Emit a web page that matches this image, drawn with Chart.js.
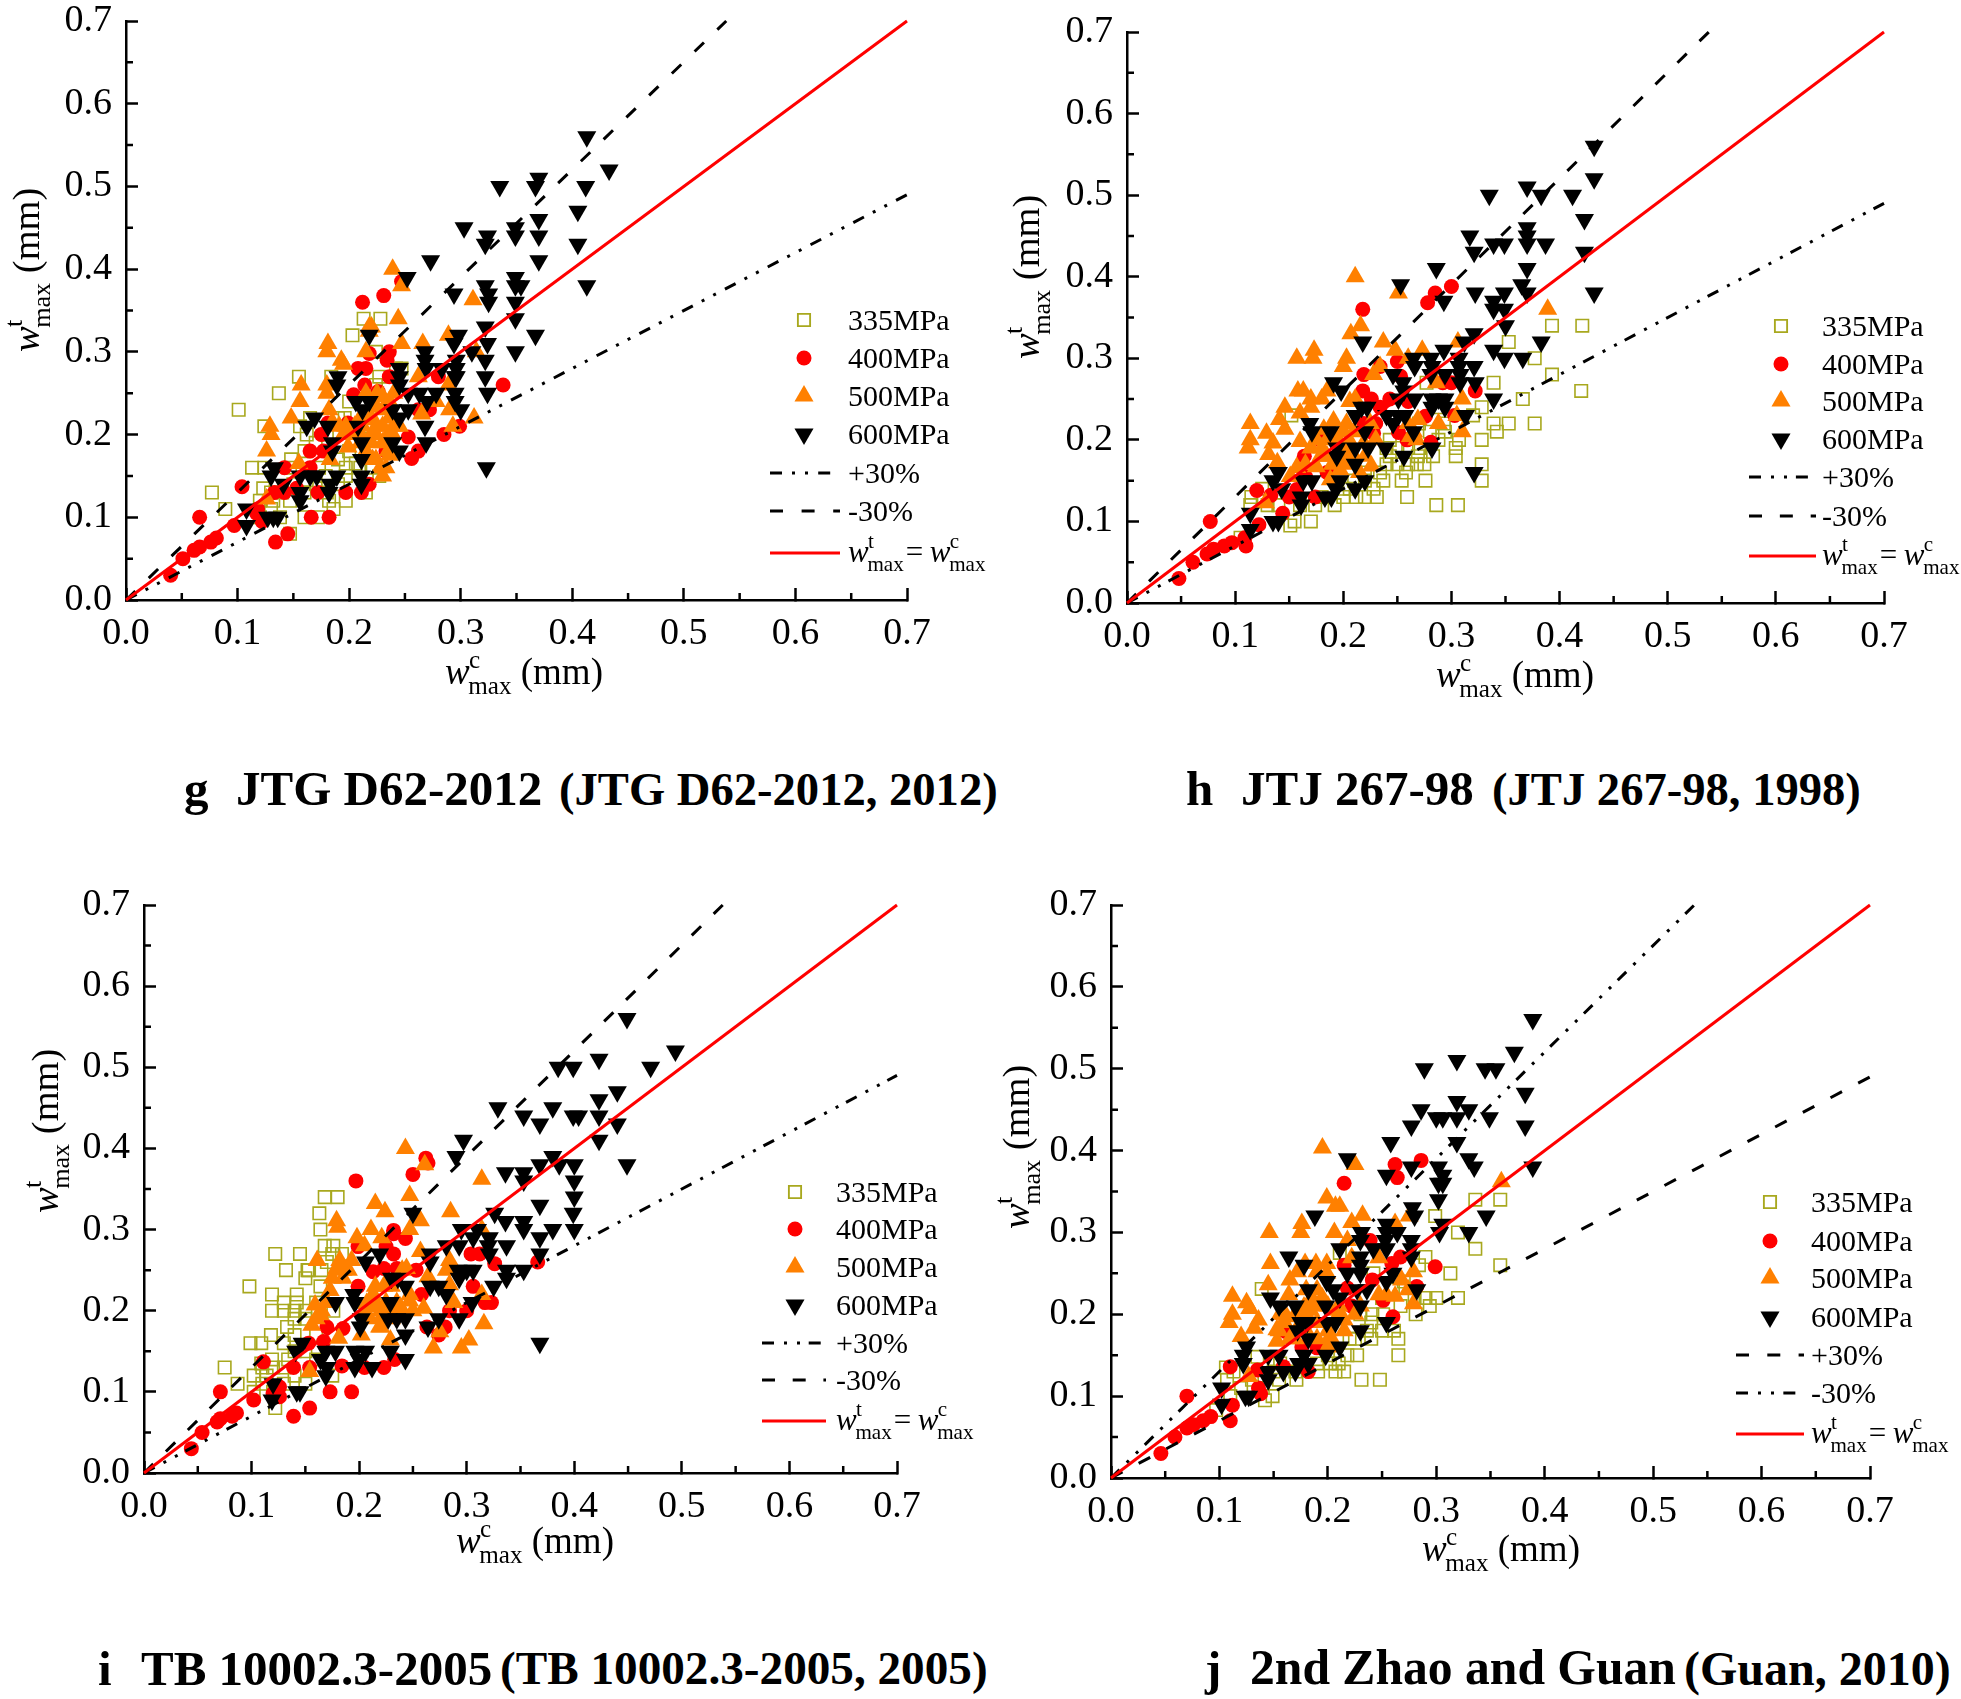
<!DOCTYPE html>
<html>
<head>
<meta charset="utf-8">
<title>Crack width comparison</title>
<script src="https://cdn.jsdelivr.net/npm/chart.js@4/dist/chart.umd.js"></script>
<style>
  html, body { margin: 0; padding: 0; background: #fff; }
  body { position: relative; width: 1961px; height: 1699px; overflow: hidden; font-family: "Liberation Serif", serif; }
  canvas { position: absolute; }
  .cap { position: absolute; font-weight: bold; line-height: 1; white-space: pre; color: #000; }
</style>
</head>
<body>
<script>
// Axis ticks
const tickValues = [0, 0.1, 0.2, 0.3, 0.4, 0.5, 0.6, 0.7];
const minorValues = [0.05, 0.15, 0.25, 0.35, 0.45, 0.55, 0.65];

// Reference lines (calculated vs tested)
const lineLow = [[0, 0], [0.7, 0.49]];
const lineHigh = [[0, 0], [0.538, 0.7]];
const lineEqual = [[0, 0], [0.7, 0.7]];

// Panel g: JTG D62-2012
const g335 = [[.101,.23],[.137,.25],[.155,.27],[.077,.13],[.089,.11],[.124,.21],[.113,.16],[.124,.16],[.213,.34],[.228,.34],[.203,.32],[.242,.28],[.227,.27],[.184,.27],[.224,.26],[.2,.24],[.196,.22],[.165,.22],[.162,.2],[.156,.21],[.148,.17],[.16,.18],[.147,.16],[.123,.135],[.12,.12],[.132,.12],[.147,.12],[.162,.145],[.173,.16],[.197,.16],[.206,.165],[.197,.12],[.182,.12],[.186,.11],[.16,.1],[.172,.1],[.138,.1],[.147,.08],[.215,.13],[.197,.15],[.179,.15],[.19,.22],[.224,.3],[.247,.28],[.227,.15],[.215,.21],[.17,.19],[.18,.2],[.19,.17],[.2,.18],[.21,.16],[.22,.16],[.18,.13],[.16,.13],[.14,.13],[.15,.14],[.13,.13],[.17,.14],[.19,.14],[.12,.1],[.13,.11]];
const g400 = [[.04,.03],[.051,.05],[.066,.1],[.061,.06],[.066,.064],[.076,.07],[.081,.075],[.097,.09],[.104,.137],[.134,.07],[.145,.08],[.122,.095],[.117,.105],[.118,.11],[.133,.13],[.142,.13],[.153,.135],[.165,.18],[.166,.1],[.182,.1],[.172,.13],[.197,.13],[.211,.13],[.218,.14],[.142,.16],[.165,.16],[.175,.2],[.181,.214],[.177,.18],[.212,.36],[.231,.368],[.247,.385],[.218,.298],[.236,.3],[.234,.29],[.236,.27],[.208,.28],[.215,.28],[.214,.26],[.204,.248],[.226,.252],[.338,.26],[.28,.27],[.262,.23],[.272,.23],[.285,.2],[.299,.21],[.253,.197],[.256,.171],[.262,.18],[.233,.18],[.199,.214]];
const g500 = [[.239,.4],[.247,.38],[.311,.363],[.244,.34],[.218,.33],[.22,.33],[.218,.325],[.181,.31],[.18,.3],[.215,.3],[.247,.31],[.266,.31],[.289,.32],[.193,.29],[.195,.285],[.314,.3],[.157,.26],[.18,.26],[.18,.25],[.156,.24],[.148,.22],[.129,.21],[.13,.2],[.126,.18],[.262,.27],[.289,.26],[.29,.23],[.265,.225],[.312,.22],[.293,.21],[.182,.23],[.155,.165],[.126,.122],[.23,.15],[.233,.16],[.236,.175],[.224,.17],[.203,.2],[.191,.21],[.199,.185],[.215,.18],[.221,.17],[.224,.2],[.23,.21],[.236,.22],[.239,.2],[.245,.21],[.23,.246],[.224,.234],[.236,.24],[.218,.218],[.212,.21],[.183,.17],[.185,.215],[.197,.21],[.278,.24],[.23,.19],[.205,.21],[.21,.2],[.22,.19],[.21,.22],[.22,.22],[.225,.21],[.235,.2],[.24,.21],[.23,.23],[.215,.25],[.225,.25],[.24,.25],[.21,.19],[.2,.2],[.195,.2],[.22,.2],[.235,.18],[.228,.16]];
const g600 = [[.413,.56],[.433,.52],[.37,.51],[.367,.5],[.335,.5],[.412,.5],[.405,.47],[.37,.46],[.303,.45],[.349,.45],[.349,.44],[.324,.44],[.37,.44],[.322,.43],[.405,.43],[.273,.41],[.37,.41],[.252,.39],[.349,.39],[.349,.38],[.354,.38],[.322,.38],[.413,.38],[.294,.37],[.325,.37],[.325,.36],[.349,.36],[.349,.34],[.322,.33],[.218,.32],[.367,.32],[.298,.32],[.294,.31],[.324,.31],[.268,.3],[.31,.3],[.349,.3],[.268,.29],[.296,.29],[.322,.29],[.245,.28],[.269,.28],[.296,.28],[.19,.27],[.296,.27],[.322,.27],[.189,.26],[.245,.27],[.245,.26],[.169,.22],[.162,.21],[.181,.21],[.206,.24],[.218,.24],[.212,.23],[.239,.23],[.253,.23],[.245,.22],[.263,.25],[.278,.25],[.27,.24],[.253,.25],[.268,.21],[.269,.19],[.208,.21],[.185,.19],[.185,.18],[.211,.19],[.211,.17],[.239,.19],[.245,.18],[.211,.15],[.211,.14],[.189,.15],[.183,.14],[.182,.13],[.165,.15],[.171,.15],[.156,.15],[.156,.13],[.156,.12],[.133,.16],[.13,.15],[.141,.14],[.108,.11],[.108,.09],[.132,.1],[.127,.1],[.136,.1],[.323,.16],[.3,.23],[.295,.24],[.295,.25],[.324,.25],[.283,.28],[.295,.27]];

// Panel h: JTJ 267-98
const h335 = [[.393,.34],[.421,.34],[.353,.32],[.377,.3],[.393,.28],[.42,.26],[.339,.27],[.366,.25],[.328,.24],[.339,.22],[.353,.22],[.377,.22],[.342,.21],[.328,.2],[.307,.2],[.304,.19],[.304,.18],[.328,.17],[.328,.15],[.286,.12],[.306,.12],[.259,.13],[.276,.15],[.258,.16],[.254,.15],[.275,.17],[.283,.18],[.269,.18],[.243,.18],[.231,.13],[.237,.15],[.234,.16],[.212,.13],[.192,.12],[.174,.12],[.17,.1],[.155,.1],[.151,.095],[.115,.13],[.125,.14],[.105,.08],[.228,.14],[.206,.14],[.2,.14],[.243,.2],[.288,.2],[.277,.27],[.293,.22],[.32,.23],[.152,.23],[.25,.19],[.268,.17],[.294,.21],[.114,.12],[.22,.16],[.24,.17],[.25,.17],[.26,.17],[.21,.15],[.22,.15],[.2,.13],[.22,.13],[.18,.13],[.16,.12],[.14,.12],[.13,.12],[.24,.19],[.26,.19],[.27,.19],[.28,.21],[.27,.22],[.29,.24]];
const h400 = [[.048,.03],[.061,.05],[.077,.1],[.074,.06],[.08,.066],[.09,.07],[.097,.074],[.11,.07],[.109,.08],[.122,.096],[.144,.11],[.12,.138],[.133,.132],[.15,.13],[.174,.13],[.164,.18],[.218,.36],[.278,.368],[.285,.38],[.3,.388],[.25,.296],[.219,.28],[.234,.29],[.253,.278],[.218,.26],[.226,.25],[.243,.25],[.234,.24],[.26,.247],[.3,.27],[.292,.27],[.322,.26],[.303,.23],[.276,.229],[.251,.209],[.259,.2],[.281,.197],[.23,.22],[.219,.22],[.228,.208],[.179,.2],[.185,.16],[.165,.155],[.195,.168],[.157,.139]];
const h500 = [[.211,.4],[.251,.38],[.389,.36],[.216,.34],[.207,.33],[.237,.32],[.248,.31],[.273,.31],[.306,.32],[.26,.3],[.157,.3],[.173,.31],[.172,.3],[.203,.3],[.2,.29],[.234,.29],[.228,.28],[.185,.26],[.158,.26],[.163,.26],[.17,.25],[.18,.25],[.17,.24],[.146,.24],[.141,.225],[.16,.233],[.114,.22],[.114,.2],[.112,.19],[.129,.208],[.146,.213],[.135,.196],[.131,.182],[.139,.172],[.157,.166],[.151,.155],[.128,.123],[.31,.25],[.286,.27],[.288,.22],[.269,.225],[.305,.23],[.31,.21],[.16,.198],[.182,.213],[.191,.223],[.203,.22],[.197,.196],[.179,.18],[.175,.167],[.197,.163],[.188,.151],[.226,.168],[.219,.196],[.211,.25],[.206,.247],[.262,.204],[.268,.2],[.203,.18],[.175,.2],[.185,.2],[.19,.21],[.2,.21],[.205,.2],[.21,.21],[.195,.18],[.185,.18],[.19,.17],[.2,.17],[.21,.18],[.215,.16],[.18,.19],[.195,.2],[.17,.19],[.205,.19],[.165,.17],[.22,.18],[.23,.2],[.225,.22],[.26,.22],[.265,.21]];
const h600 = [[.432,.56],[.432,.52],[.37,.51],[.335,.5],[.383,.5],[.412,.5],[.37,.46],[.317,.45],[.37,.45],[.423,.47],[.321,.43],[.423,.43],[.339,.44],[.349,.44],[.37,.44],[.387,.44],[.37,.41],[.286,.41],[.253,.39],[.365,.39],[.293,.37],[.322,.38],[.349,.38],[.37,.38],[.432,.38],[.339,.37],[.349,.36],[.339,.36],[.35,.34],[.218,.32],[.321,.33],[.312,.32],[.383,.32],[.339,.31],[.293,.31],[.349,.3],[.366,.3],[.307,.3],[.265,.3],[.281,.3],[.266,.29],[.282,.29],[.321,.29],[.307,.29],[.294,.28],[.308,.28],[.281,.28],[.246,.28],[.255,.27],[.322,.27],[.308,.27],[.191,.27],[.198,.26],[.256,.26],[.266,.25],[.282,.25],[.294,.25],[.288,.25],[.251,.25],[.222,.24],[.217,.24],[.339,.25],[.282,.24],[.294,.24],[.313,.23],[.24,.23],[.211,.23],[.257,.23],[.251,.23],[.169,.22],[.246,.22],[.171,.21],[.188,.21],[.22,.21],[.265,.21],[.194,.19],[.211,.19],[.223,.19],[.239,.19],[.282,.19],[.194,.18],[.256,.18],[.211,.17],[.14,.16],[.135,.15],[.163,.15],[.171,.15],[.197,.15],[.22,.15],[.143,.14],[.193,.14],[.211,.14],[.161,.13],[.183,.13],[.189,.13],[.161,.12],[.114,.11],[.135,.1],[.14,.1],[.114,.09],[.321,.16]];

// Panel i: TB 10002.3-2005
const i335 = [[.168,.34],[.18,.34],[.163,.32],[.164,.3],[.176,.28],[.168,.28],[.122,.27],[.145,.27],[.132,.25],[.152,.25],[.098,.23],[.119,.22],[.142,.22],[.13,.21],[.142,.21],[.119,.2],[.13,.2],[.14,.19],[.133,.18],[.118,.17],[.099,.16],[.109,.16],[.13,.16],[.14,.17],[.119,.14],[.109,.135],[.075,.13],[.102,.12],[.114,.12],[.087,.11],[.102,.1],[.122,.08],[.11,.11],[.134,.14],[.15,.11],[.15,.24],[.153,.25],[.164,.23],[.175,.27],[.184,.27],[.176,.2],[.14,.2],[.175,.12],[.15,.2],[.16,.21],[.15,.19],[.16,.17],[.15,.15],[.13,.13],[.14,.12],[.12,.1],[.13,.11],[.14,.15],[.16,.14],[.165,.25],[.17,.26],[.12,.13],[.11,.13]];
const i400 = [[.044,.03],[.054,.05],[.071,.1],[.068,.063],[.071,.067],[.082,.07],[.086,.074],[.102,.09],[.139,.07],[.154,.08],[.173,.1],[.193,.1],[.12,.098],[.126,.094],[.126,.106],[.111,.137],[.139,.13],[.154,.13],[.184,.132],[.223,.13],[.233,.14],[.205,.13],[.197,.36],[.25,.368],[.262,.388],[.264,.382],[.232,.299],[.232,.295],[.243,.289],[.225,.279],[.199,.279],[.232,.27],[.213,.248],[.223,.252],[.235,.252],[.253,.25],[.199,.23],[.306,.23],[.304,.27],[.312,.27],[.326,.258],[.366,.26],[.317,.21],[.323,.21],[.3,.2],[.284,.2],[.258,.22],[.263,.18],[.28,.18],[.274,.17],[.17,.18],[.185,.178],[.153,.16],[.167,.162]];
const i500 = [[.243,.4],[.261,.38],[.314,.362],[.247,.342],[.215,.332],[.224,.322],[.285,.322],[.179,.311],[.18,.303],[.257,.311],[.247,.3],[.211,.3],[.198,.29],[.221,.29],[.205,.28],[.314,.3],[.257,.273],[.284,.262],[.161,.262],[.182,.262],[.193,.262],[.179,.252],[.281,.25],[.244,.252],[.264,.242],[.173,.225],[.284,.232],[.247,.22],[.314,.22],[.213,.22],[.223,.23],[.159,.207],[.213,.205],[.26,.203],[.238,.205],[.288,.21],[.164,.195],[.221,.193],[.156,.182],[.219,.18],[.202,.17],[.275,.174],[.316,.184],[.229,.164],[.302,.164],[.181,.166],[.269,.154],[.295,.154],[.154,.125],[.247,.212],[.207,.209],[.229,.2],[.215,.21],[.22,.2],[.225,.21],[.23,.19],[.21,.19],[.235,.21],[.24,.2],[.25,.2],[.205,.2],[.22,.18],[.215,.23],[.23,.23],[.24,.25],[.19,.25],[.185,.25],[.185,.24],[.175,.24],[.17,.21],[.165,.2],[.16,.19]];
const i600 = [[.449,.56],[.494,.52],[.423,.51],[.385,.5],[.399,.5],[.471,.5],[.44,.47],[.423,.46],[.329,.45],[.38,.45],[.353,.44],[.399,.44],[.404,.44],[.423,.44],[.368,.43],[.44,.43],[.297,.41],[.423,.41],[.29,.39],[.38,.39],[.368,.38],[.386,.38],[.4,.38],[.449,.38],[.336,.37],[.353,.37],[.353,.36],[.4,.36],[.4,.34],[.368,.33],[.25,.32],[.399,.32],[.326,.32],[.336,.31],[.353,.31],[.295,.3],[.31,.3],[.353,.3],[.38,.3],[.4,.3],[.368,.29],[.306,.29],[.321,.29],[.368,.16],[.368,.27],[.293,.28],[.337,.28],[.32,.28],[.281,.28],[.266,.27],[.266,.26],[.321,.27],[.292,.25],[.3,.25],[.306,.25],[.353,.25],[.337,.25],[.293,.24],[.337,.24],[.219,.27],[.206,.26],[.23,.24],[.236,.24],[.266,.23],[.274,.23],[.243,.23],[.281,.22],[.325,.23],[.195,.22],[.196,.21],[.178,.21],[.229,.21],[.305,.21],[.202,.19],[.227,.19],[.235,.19],[.243,.19],[.274,.19],[.293,.19],[.201,.18],[.264,.18],[.243,.17],[.147,.16],[.141,.15],[.169,.15],[.178,.15],[.196,.15],[.206,.15],[.229,.15],[.164,.14],[.2,.14],[.17,.13],[.196,.13],[.212,.13],[.243,.14],[.169,.12],[.12,.11],[.119,.09],[.142,.1],[.145,.1]];

// Panel j: 2nd Zhao and Guan
const j335 = [[.336,.34],[.359,.34],[.299,.32],[.32,.3],[.336,.28],[.359,.26],[.313,.25],[.29,.27],[.284,.26],[.29,.22],[.3,.22],[.32,.22],[.294,.21],[.281,.2],[.267,.21],[.241,.2],[.251,.2],[.265,.17],[.265,.15],[.261,.18],[.248,.12],[.231,.12],[.215,.13],[.207,.13],[.191,.13],[.227,.15],[.218,.15],[.236,.18],[.225,.17],[.171,.12],[.155,.12],[.149,.1],[.142,.095],[.113,.13],[.107,.12],[.106,.135],[.097,.083],[.135,.148],[.139,.231],[.211,.275],[.242,.25],[.202,.14],[.156,.14],[.22,.17],[.23,.2],[.25,.22],[.26,.23],[.27,.24],[.24,.19],[.2,.15],[.19,.14],[.21,.14],[.17,.13],[.15,.13],[.13,.12],[.14,.11],[.12,.11],[.11,.1],[.28,.22],[.25,.18],[.24,.17]];
const j400 = [[.046,.03],[.059,.05],[.07,.1],[.07,.061],[.076,.065],[.085,.07],[.092,.075],[.11,.07],[.112,.089],[.136,.11],[.138,.103],[.11,.136],[.135,.132],[.159,.136],[.182,.13],[.161,.179],[.215,.36],[.262,.383],[.264,.367],[.286,.388],[.239,.29],[.215,.26],[.267,.27],[.259,.262],[.299,.258],[.218,.232],[.241,.242],[.26,.197],[.19,.159],[.176,.16],[.222,.21],[.282,.234],[.251,.217]];
const j500 = [[.195,.403],[.225,.383],[.36,.362],[.199,.342],[.211,.332],[.207,.332],[.232,.321],[.222,.312],[.176,.311],[.175,.3],[.146,.3],[.206,.3],[.262,.311],[.275,.32],[.218,.29],[.147,.262],[.165,.242],[.145,.236],[.189,.262],[.199,.262],[.179,.262],[.112,.222],[.125,.214],[.112,.2],[.109,.19],[.128,.207],[.136,.193],[.132,.183],[.12,.173],[.164,.224],[.156,.2],[.153,.181],[.153,.167],[.162,.197],[.178,.209],[.184,.205],[.19,.23],[.172,.252],[.19,.252],[.199,.25],[.208,.205],[.215,.193],[.202,.173],[.202,.165],[.127,.124],[.247,.269],[.279,.252],[.268,.242],[.247,.224],[.254,.224],[.262,.222],[.279,.213],[.274,.23],[.222,.269],[.16,.2],[.17,.2],[.175,.19],[.18,.2],[.19,.21],[.2,.21],[.19,.19],[.18,.18],[.19,.17],[.2,.18],[.185,.22],[.195,.22],[.21,.21],[.17,.17],[.165,.17],[.21,.2],[.18,.23],[.16,.19],[.155,.18],[.2,.16],[.215,.18],[.225,.2],[.23,.21]];
const j600 = [[.389,.56],[.372,.52],[.319,.51],[.289,.5],[.345,.5],[.355,.5],[.319,.46],[.382,.47],[.286,.45],[.33,.45],[.277,.43],[.382,.43],[.3,.44],[.306,.44],[.319,.44],[.349,.44],[.258,.41],[.319,.41],[.218,.39],[.33,.39],[.277,.38],[.302,.38],[.335,.38],[.389,.38],[.254,.37],[.306,.37],[.302,.36],[.306,.36],[.302,.34],[.278,.33],[.188,.32],[.28,.32],[.346,.32],[.306,.31],[.254,.31],[.303,.3],[.33,.3],[.231,.3],[.254,.3],[.264,.3],[.23,.29],[.253,.29],[.277,.29],[.277,.28],[.254,.28],[.242,.28],[.211,.28],[.164,.27],[.23,.27],[.277,.27],[.178,.26],[.23,.26],[.218,.25],[.23,.25],[.26,.25],[.254,.24],[.199,.24],[.182,.23],[.205,.23],[.227,.23],[.236,.23],[.282,.23],[.147,.22],[.211,.22],[.155,.21],[.17,.21],[.198,.21],[.23,.21],[.175,.19],[.181,.19],[.199,.19],[.207,.19],[.254,.19],[.172,.18],[.23,.18],[.182,.17],[.211,.16],[.125,.16],[.122,.15],[.145,.15],[.155,.15],[.178,.15],[.198,.15],[.122,.14],[.173,.14],[.182,.14],[.145,.13],[.159,.13],[.17,.13],[.145,.12],[.102,.11],[.124,.1],[.127,.1],[.102,.09]];

// Text
const seriesNames = ['335MPa', '400MPa', '500MPa', '600MPa'];

// Marker and line looks
const OLIVE = '#a8a81e', RED = '#ff0000', ORANGE = '#ff8000', BLACK = '#000000';
const FONT = '"Liberation Serif", serif';
const markers = [
    { pointStyle: 'rect', pointRadius: 8.8, pointBackgroundColor: 'rgba(0,0,0,0)', pointBorderColor: OLIVE, pointBorderWidth: 1.6, pointRotation: 0 },
    { pointStyle: 'circle', pointRadius: 7.5, pointBackgroundColor: RED, pointBorderColor: RED, pointBorderWidth: 0, pointRotation: 0 },
    { pointStyle: 'triangle', pointRadius: 11, pointBackgroundColor: ORANGE, pointBorderColor: ORANGE, pointBorderWidth: 0, pointRotation: 0 },
    { pointStyle: 'triangle', pointRadius: 11, pointBackgroundColor: BLACK, pointBorderColor: BLACK, pointBorderWidth: 0, pointRotation: 180 }
];

// dash / dashDot are tuned per panel so each line ends on a dash like the original
const panels = [
    { series: [g335, g400, g500, g600], box: [0, 0, 1000, 740], area: [126, 907, 21, 600], swap: false,
      dash: [13, 18.6], dashDot: [12, 10, 3, 10, 3, 10.2],
      xTitle: [445, 684], yTitle: [39, 352], legend: { sym: 804, line: [770, 840], text: 848, ys: [320, 358, 396, 434, 473, 511, 553] } },
    { series: [h335, h400, h500, h600], box: [980, 0, 981, 740], area: [1127, 1884, 32, 603], swap: false,
      dash: [13, 17.85], dashDot: [12, 10, 3, 10, 3, 8.9],
      xTitle: [1436, 687], yTitle: [1039, 359], legend: { sym: 1781, line: [1749, 1816], text: 1822, ys: [326, 364, 401, 439, 477, 516, 556] } },
    { series: [i335, i400, i500, i600], box: [0, 860, 1000, 730], area: [144, 897, 905, 1473], swap: false,
      dash: [13, 17.7], dashDot: [12, 10, 3, 10, 3, 8.7],
      xTitle: [456, 1553], yTitle: [58, 1213], legend: { sym: 795, line: [762, 826], text: 836, ys: [1192, 1229, 1267, 1305, 1343, 1380, 1421] } },
    { series: [j335, j400, j500, j600], box: [980, 860, 981, 730], area: [1111, 1870, 905, 1478], swap: true,
      dash: [13, 18.3], dashDot: [12, 10, 3, 10, 3, 9.35],
      xTitle: [1422, 1561], yTitle: [1029, 1229], legend: { sym: 1770, line: [1736, 1804], text: 1811, ys: [1202, 1241, 1278, 1317, 1355, 1393, 1434] } }
];

const captions = [
    { parts: [['g', 184, 49], ['JTG D62-2012', 236, 49], ['(JTG D62-2012, 2012)', 559, 46.6]], base: 805 },
    { parts: [['h', 1186, 49], ['JTJ 267-98', 1241, 49], ['(JTJ 267-98, 1998)', 1492, 46.6]], base: 805 },
    { parts: [['i', 98, 49], ['TB 10002.3-2005', 141, 49], ['(TB 10002.3-2005, 2005)', 500, 47.2]], base: 1685 },
    { parts: [['j', 1205, 49], ['2nd Zhao and Guan', 1250, 49.6], ['(Guan, 2010)', 1684, 48]], base: 1685 }
];

// w with t or c on top and max below, then optional tail text
function drawWLabel(ctx, x, y, size, sup, tail) {
    ctx.textBaseline = 'alphabetic';
    ctx.textAlign = 'left';
    ctx.fillStyle = '#000';
    ctx.font = 'italic ' + size + 'px ' + FONT;
    ctx.fillText('w', x, y);
    const w = ctx.measureText('w').width;
    const small = size * 0.68;
    ctx.font = small + 'px ' + FONT;
    ctx.fillText(sup, x + w - size * 0.02, y - size * 0.44);
    ctx.fillText('max', x + w - size * 0.04, y + size * 0.28);
    const w2 = ctx.measureText('max').width;
    if (tail) {
        ctx.font = size + 'px ' + FONT;
        ctx.fillText(tail, x + w + w2 - size * 0.04, y);
        return x + w + w2 - size * 0.04 + ctx.measureText(tail).width;
    }
    return x + w + w2 - size * 0.04;
}

// Things Chart.js has no option for: minor ticks, stacked sub/superscript titles, inset legend
function decorPlugin(panel) {
    const ox = panel.box[0], oy = panel.box[1];
    return {
        id: 'decor',
        beforeDatasetsDraw(chart) {
            const ctx = chart.ctx, xs = chart.scales.x, ys = chart.scales.y;
            ctx.save();
            ctx.strokeStyle = '#000';
            ctx.lineWidth = 2.5;
            ctx.beginPath();
            minorValues.forEach(v => {
                ctx.moveTo(xs.getPixelForValue(v), ys.bottom);
                ctx.lineTo(xs.getPixelForValue(v), ys.bottom - 7);
                ctx.moveTo(xs.left, ys.getPixelForValue(v));
                ctx.lineTo(xs.left + 7, ys.getPixelForValue(v));
            });
            ctx.stroke();
            ctx.restore();
        },
        afterDraw(chart) {
            const ctx = chart.ctx, lg = panel.legend;
            ctx.save();
            drawWLabel(ctx, panel.xTitle[0] - ox, panel.xTitle[1] - oy, 37, 'c', ' (mm)');
            ctx.save();
            ctx.translate(panel.yTitle[0] - ox, panel.yTitle[1] - oy);
            ctx.rotate(-Math.PI / 2);
            drawWLabel(ctx, 0, 0, 38.5, 't', ' (mm)');
            ctx.restore();

            const textX = lg.text - ox;
            seriesNames.forEach((name, i) => {
                const y = lg.ys[i] - oy, m = markers[i];
                ctx.fillStyle = m.pointBackgroundColor;
                ctx.strokeStyle = m.pointBorderColor;
                Chart.helpers.drawPoint(ctx, {
                    pointStyle: m.pointStyle,
                    radius: m.pointRadius,
                    rotation: m.pointRotation,
                    borderWidth: m.pointBorderWidth
                }, lg.sym - ox, y);
                if (m.pointBorderWidth) {
                    ctx.lineWidth = m.pointBorderWidth;
                    ctx.stroke();
                }
                ctx.fillStyle = '#000';
                ctx.font = '30px ' + FONT;
                ctx.textBaseline = 'alphabetic';
                ctx.fillText(name, textX, y + 10);
            });
            const plusDash = panel.swap ? panel.dash : panel.dashDot;
            const minusDash = panel.swap ? panel.dashDot : panel.dash;
            [['+30%', plusDash], ['-30%', minusDash]].forEach((row, k) => {
                const y = lg.ys[4 + k] - oy;
                ctx.strokeStyle = '#000';
                ctx.lineWidth = 3;
                ctx.setLineDash(row[1]);
                ctx.beginPath();
                ctx.moveTo(lg.line[0] - ox, y);
                ctx.lineTo(lg.line[1] - ox, y);
                ctx.stroke();
                ctx.setLineDash([]);
                ctx.fillStyle = '#000';
                ctx.font = '30px ' + FONT;
                ctx.fillText(row[0], textX, y + 10);
            });
            const ry = lg.ys[6] - oy;
            ctx.strokeStyle = RED;
            ctx.lineWidth = 3;
            ctx.beginPath();
            ctx.moveTo(lg.line[0] - ox, ry);
            ctx.lineTo(lg.line[1] - ox, ry);
            ctx.stroke();
            const end = drawWLabel(ctx, textX, ry + 9, 31, 't');
            ctx.font = '31px ' + FONT;
            ctx.fillStyle = '#000';
            ctx.fillText('=', end + 2, ry + 9);
            drawWLabel(ctx, end + 26, ry + 9, 31, 'c');
            ctx.restore();
        }
    };
}

function toPoints(list) {
    return list.map(p => ({ x: p[0], y: p[1] }));
}

function lineSet(list, color, dash, order) {
    return {
        data: toPoints(list),
        showLine: true,
        pointRadius: 0,
        borderColor: color,
        borderWidth: 3,
        borderDash: dash,
        order: order,
        clip: false
    };
}

function axisOptions(padding, size) {
    return {
        type: 'linear',
        min: 0,
        max: 0.7,
        afterBuildTicks: scale => { scale.ticks = tickValues.map(v => ({ value: v })); },
        ticks: {
            color: '#000',
            padding: padding,
            maxRotation: 0,
            autoSkip: false,
            font: { family: FONT, size: 38 },
            callback: v => v.toFixed(1)
        },
        grid: { drawOnChartArea: false, tickLength: -12, tickWidth: 2.5, tickColor: '#000' },
        border: { display: true, color: '#000', width: 2.5 },
        afterFit: s => {
            // keep label overhang from pushing the plot area around
            if (s.axis === 'x') s.height = size; else s.width = size;
            s.paddingLeft = s.paddingRight = s.paddingTop = s.paddingBottom = 0;
        }
    };
}

function drawPanel(panel) {
    const [left, top, width, height] = panel.box;
    const [aL, aR, aT, aB] = panel.area;
    const canvas = document.createElement('canvas');
    canvas.width = width;
    canvas.height = height;
    canvas.style.left = left + 'px';
    canvas.style.top = top + 'px';
    document.body.appendChild(canvas);

    const yAxisW = 100, xAxisH = 60;
    const scatter = panel.series.map((list, i) => Object.assign({
        data: toPoints(list),
        showLine: false,
        order: 6 - i,
        clip: false
    }, markers[i]));

    new Chart(canvas.getContext('2d'), {
        type: 'scatter',
        data: {
            datasets: scatter.concat([
                lineSet(lineLow, BLACK, panel.swap ? panel.dash : panel.dashDot, 2),
                lineSet(lineHigh, BLACK, panel.swap ? panel.dashDot : panel.dash, 1),
                lineSet(lineEqual, RED, [], 0)
            ])
        },
        options: {
            responsive: false,
            animation: false,
            devicePixelRatio: 1,
            layout: {
                padding: {
                    left: aL - left - yAxisW,
                    right: left + width - aR,
                    top: aT - top,
                    bottom: top + height - aB - xAxisH
                }
            },
            scales: { x: axisOptions(23, xAxisH), y: axisOptions(26, yAxisW) },
            plugins: { legend: { display: false }, tooltip: { enabled: false } }
        },
        plugins: [decorPlugin(panel)]
    });
}

panels.forEach(drawPanel);

captions.forEach(cap => {
    cap.parts.forEach(part => {
        const el = document.createElement('div');
        el.className = 'cap';
        el.textContent = part[0];
        el.style.left = part[1] + 'px';
        el.style.fontSize = part[2] + 'px';
        el.style.top = (cap.base - part[2] * 0.8375) + 'px';
        document.body.appendChild(el);
    });
});
</script>
</body>
</html>
